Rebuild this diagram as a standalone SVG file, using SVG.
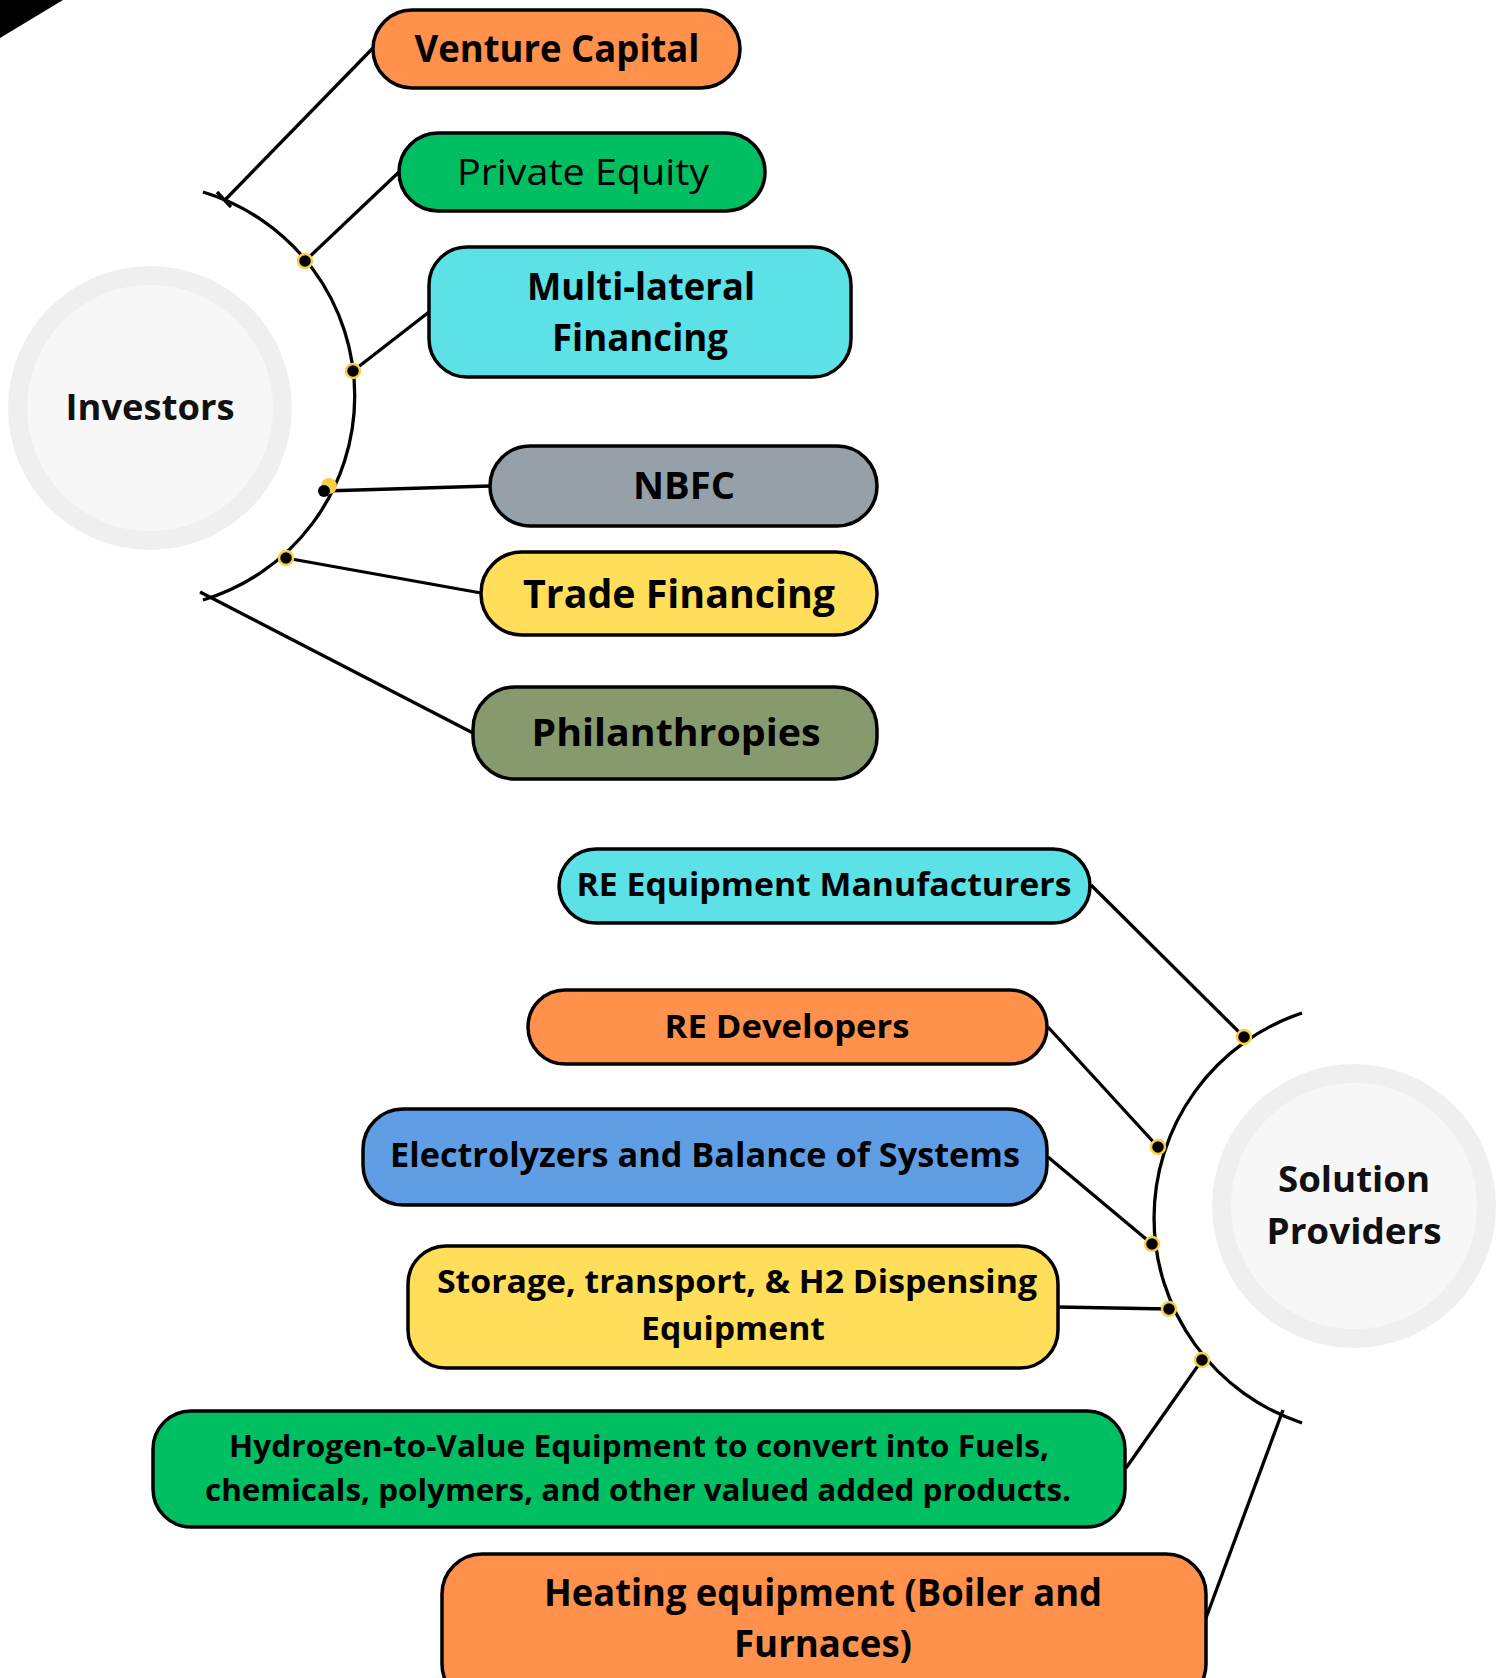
<svg xmlns="http://www.w3.org/2000/svg" width="1508" height="1678" viewBox="0 0 1508 1678">
<style>
.box{stroke:#000;stroke-width:3.5}
.t{font-family:"Open Sans","Liberation Sans",sans-serif;font-weight:700;fill:#000;text-anchor:middle;dominant-baseline:central}
.r{font-weight:400}
.hub{font-family:"Open Sans","Liberation Sans",sans-serif;font-weight:700;font-size:35px;fill:#111;text-anchor:middle;dominant-baseline:central}
.ln{stroke:#000;stroke-width:3.3;fill:none}
.dot{fill:#000;stroke:#f7d046;stroke-width:2.5}
</style>
<rect width="1508" height="1678" fill="#fff"/>
<polygon points="0,0 63,0 0,38" fill="#000"/>

<g id="connectors">
  <path class="ln" d="M203,192 A213,213 0 0 1 203,600"/>
  <path class="ln" d="M1302,1013 A216,216 0 0 0 1302,1423"/>
  <line class="ln" x1="373" y1="48" x2="225" y2="200"/>
  <line class="ln" x1="217" y1="192" x2="231" y2="207"/>
  <line class="ln" x1="305" y1="261" x2="399" y2="172"/>
  <line class="ln" x1="353" y1="371" x2="429" y2="312"/>
  <line class="ln" x1="324" y1="491" x2="490" y2="486"/>
  <line class="ln" x1="286" y1="558" x2="481" y2="593"/>
  <line class="ln" x1="200" y1="592" x2="473" y2="733"/>
  <line class="ln" x1="1091" y1="885" x2="1244" y2="1037"/>
  <line class="ln" x1="1048" y1="1027" x2="1158" y2="1147"/>
  <line class="ln" x1="1048" y1="1157" x2="1152" y2="1244"/>
  <line class="ln" x1="1058" y1="1307" x2="1169" y2="1309"/>
  <line class="ln" x1="1126" y1="1468" x2="1202" y2="1360"/>
  <line class="ln" x1="1206" y1="1618" x2="1283" y2="1410"/>
  <circle class="dot" cx="305" cy="261" r="7"/>
  <circle class="dot" cx="353" cy="371" r="7"/>
  <circle cx="329" cy="486" r="8" fill="#f7d046"/>
  <circle cx="324" cy="491" r="6" fill="#000"/>
  <circle class="dot" cx="286" cy="558" r="7"/>
  <circle class="dot" cx="1244" cy="1037" r="7"/>
  <circle class="dot" cx="1158" cy="1147" r="7"/>
  <circle class="dot" cx="1152" cy="1244" r="7"/>
  <circle class="dot" cx="1169" cy="1309" r="7"/>
  <circle class="dot" cx="1202" cy="1360" r="7"/>
</g>

<g id="investors">
  <circle cx="150" cy="408" r="142" fill="#efefef"/>
  <circle cx="150" cy="408" r="123" fill="#f7f7f7"/>
  <text class="hub" x="150" y="406" textLength="169" lengthAdjust="spacingAndGlyphs">Investors</text>
</g>

<g id="venture-capital">
  <rect class="box" x="373" y="10" width="367" height="78" rx="39" fill="#ff914d"/>
  <text class="t" x="557" y="47" font-size="37" textLength="285" lengthAdjust="spacingAndGlyphs">Venture Capital</text>
</g>
<g id="private-equity">
  <rect class="box" x="399" y="133" width="366" height="78" rx="39" fill="#00bf63"/>
  <text class="t r" x="583" y="170" font-size="37" textLength="252" lengthAdjust="spacingAndGlyphs">Private Equity</text>
</g>
<g id="multilateral">
  <rect class="box" x="429" y="247" width="422" height="130" rx="38" fill="#5ce1e6"/>
  <text class="t" x="641" y="285" font-size="37" textLength="228" lengthAdjust="spacingAndGlyphs">Multi-lateral</text>
  <text class="t" x="640" y="336" font-size="37" textLength="176" lengthAdjust="spacingAndGlyphs">Financing</text>
</g>
<g id="nbfc">
  <rect class="box" x="490" y="446" width="387" height="80" rx="40" fill="#95a0a8"/>
  <text class="t" x="684" y="484" font-size="37" textLength="102" lengthAdjust="spacingAndGlyphs">NBFC</text>
</g>
<g id="trade-financing">
  <rect class="box" x="481" y="552" width="396" height="83" rx="41" fill="#ffde59"/>
  <text class="t" x="679" y="592" font-size="40" textLength="312" lengthAdjust="spacingAndGlyphs">Trade Financing</text>
</g>
<g id="philanthropies">
  <rect class="box" x="473" y="687" width="404" height="92" rx="42" fill="#869a6e"/>
  <text class="t" x="676" y="731" font-size="37" textLength="289" lengthAdjust="spacingAndGlyphs">Philanthropies</text>
</g>

<g id="solution-providers">
  <circle cx="1354" cy="1206" r="142" fill="#efefef"/>
  <circle cx="1354" cy="1206" r="123" fill="#f7f7f7"/>
  <text class="hub" x="1354" y="1178" textLength="152" lengthAdjust="spacingAndGlyphs">Solution</text>
  <text class="hub" x="1354" y="1230" textLength="175" lengthAdjust="spacingAndGlyphs">Providers</text>
</g>

<g id="re-equipment">
  <rect class="box" x="559" y="849" width="531" height="74" rx="37" fill="#5ce1e6"/>
  <text class="t" x="824" y="883" font-size="33" textLength="495" lengthAdjust="spacingAndGlyphs">RE Equipment Manufacturers</text>
</g>
<g id="re-developers">
  <rect class="box" x="528" y="990" width="519" height="74" rx="37" fill="#ff914d"/>
  <text class="t" x="787" y="1025" font-size="33" textLength="245" lengthAdjust="spacingAndGlyphs">RE Developers</text>
</g>
<g id="electrolyzers">
  <rect class="box" x="363" y="1109" width="684" height="96" rx="40" fill="#5f9ee4"/>
  <text class="t" x="705" y="1154" font-size="34" textLength="630" lengthAdjust="spacingAndGlyphs">Electrolyzers and Balance of Systems</text>
</g>
<g id="storage">
  <rect class="box" x="408" y="1246" width="650" height="122" rx="38" fill="#ffde59"/>
  <text class="t" x="737" y="1280" font-size="33" textLength="600" lengthAdjust="spacingAndGlyphs">Storage, transport, &amp; H2 Dispensing</text>
  <text class="t" x="733" y="1327" font-size="33" textLength="184" lengthAdjust="spacingAndGlyphs">Equipment</text>
</g>
<g id="hydrogen-to-value">
  <rect class="box" x="153" y="1411" width="972" height="116" rx="38" fill="#00bf63"/>
  <text class="t" x="639" y="1445" font-size="30" textLength="820" lengthAdjust="spacingAndGlyphs">Hydrogen-to-Value Equipment to convert into Fuels,</text>
  <text class="t" x="638" y="1489" font-size="30" textLength="866" lengthAdjust="spacingAndGlyphs">chemicals, polymers, and other valued added products.</text>
</g>
<g id="heating">
  <rect class="box" x="442" y="1554" width="764" height="150" rx="40" fill="#ff914d"/>
  <text class="t" x="823" y="1591" font-size="38" textLength="558" lengthAdjust="spacingAndGlyphs">Heating equipment (Boiler and</text>
  <text class="t" x="823" y="1642" font-size="38" textLength="178" lengthAdjust="spacingAndGlyphs">Furnaces)</text>
</g>
</svg>
